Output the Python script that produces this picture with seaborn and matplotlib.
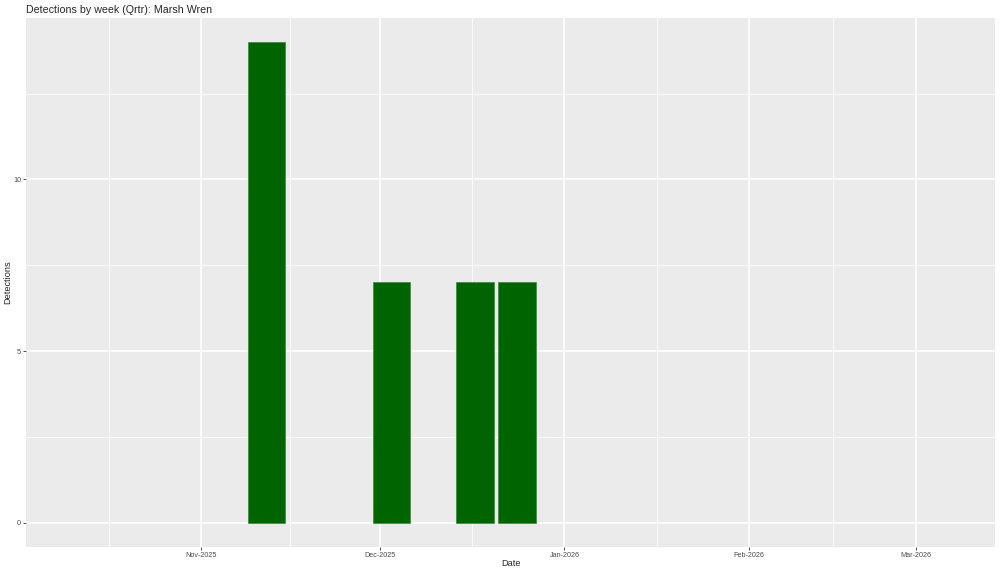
import pandas as pd
import seaborn as sns
import matplotlib.pyplot as plt
import matplotlib.dates as mdates
from matplotlib.ticker import FixedLocator

# weekly detection counts
week_start = ['2025-11-12', '2025-12-03', '2025-12-17', '2025-12-24']
detections = [14, 7, 7, 7]
x_limits = ['2025-10-02 15:00', '2026-03-14 06:00']
title = 'Detections by week (Qrtr): Marsh Wren'

df = pd.DataFrame({'date': pd.to_datetime(week_start), 'n': detections})
df['x'] = mdates.date2num(df['date'])

sns.set_theme(style='darkgrid', rc={
    'axes.facecolor': '#EBEBEB',
    'grid.color': 'white',
    'axes.edgecolor': 'none',
    'xtick.bottom': True,
    'ytick.left': True,
})
plt.rcParams['font.family'] = ['Liberation Sans', 'DejaVu Sans']

fig = plt.figure(figsize=(10, 5.73), dpi=100)
ax = fig.add_axes([0.026, 0.0454, 0.969, 0.9232])

sns.barplot(data=df, x='x', y='n', native_scale=True, width=0.9,
            color='#006400', saturation=1, errorbar=None,
            edgecolor='#2E7D2E', linewidth=0.4, ax=ax)

ax.set_xlim(mdates.date2num(pd.to_datetime(x_limits[0])),
            mdates.date2num(pd.to_datetime(x_limits[1])))
ax.set_ylim(-0.7, 14.7)

ax.xaxis.set_major_locator(mdates.MonthLocator())
ax.xaxis.set_major_formatter(mdates.DateFormatter('%b-%Y'))
months = pd.date_range('2025-10-01', '2026-04-01', freq='MS')
mids = [mdates.date2num(a) + (mdates.date2num(b) - mdates.date2num(a)) / 2
        for a, b in zip(months[:-1], months[1:])]
ax.xaxis.set_minor_locator(FixedLocator(mids))
ax.set_yticks([0, 5, 10])
ax.yaxis.set_minor_locator(FixedLocator([2.5, 7.5, 12.5]))

ax.grid(which='major', color='white', linewidth=1.1)
ax.grid(which='minor', color='white', linewidth=0.55)
ax.tick_params(which='major', length=2, width=0.6, color='#333333',
               labelsize=5.2, labelcolor='#4D4D4D', pad=1.5)
ax.tick_params(which='minor', length=0)

ax.set_xlabel('Date', fontsize=6.6)
ax.set_ylabel('Detections', fontsize=6.6)
ax.xaxis.set_label_coords(0.5, -0.022)
ax.yaxis.set_label_coords(-0.0144, 0.5)
fig.text(0.026, 1 - 13 / 573, title, fontsize=7.7, ha='left', va='baseline')
for s in ax.spines.values():
    s.set_visible(False)

fig.savefig('out.png', dpi=100)
